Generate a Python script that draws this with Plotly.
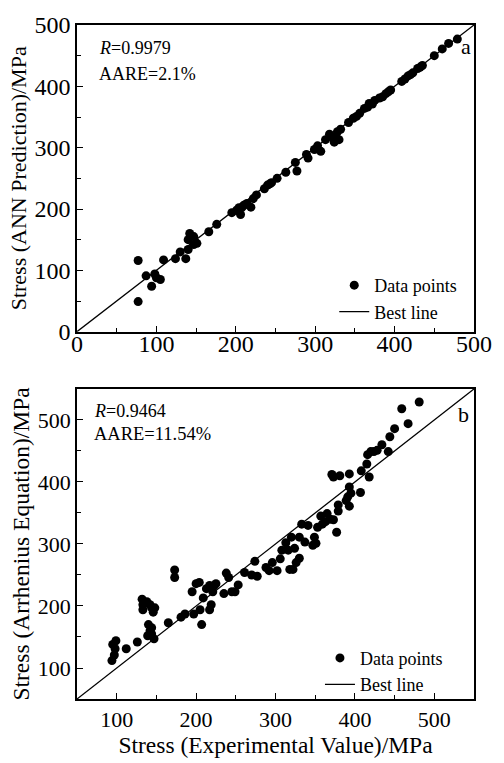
import plotly.graph_objects as go

# ---- Panel a: ANN prediction vs experimental ----
ann_exp = [77, 77, 94, 98, 87, 100, 105, 109, 124, 137, 130, 140, 142, 140, 147, 147, 151,
           166, 176, 195, 201, 206, 208, 214, 219, 222, 226, 236, 240, 245, 252, 263, 275,
           277, 289, 291, 299, 303, 307, 313, 320, 324, 328, 330, 332, 342, 348, 356, 362,
           368, 375, 381, 389, 395, 409, 417, 423, 429, 435, 450, 460, 468, 479,
           204, 210, 243, 318, 326, 352, 366, 372, 385, 392, 413, 420, 432]
ann_pred = [116, 49, 74, 94, 91, 88, 85, 117, 119, 119, 130, 134, 160, 150, 155, 142, 144,
            163, 175, 194, 198, 191, 203, 209, 203, 217, 223, 233, 239, 243, 250, 260, 276,
            262, 289, 283, 297, 303, 294, 313, 318, 309, 326, 313, 330, 341, 348, 356, 364,
            372, 377, 381, 388, 394, 408, 417, 422, 429, 434, 450, 461, 470, 477,
            202, 206, 241, 322, 318, 351, 366, 371, 383, 391, 412, 419, 431]

# ---- Panel b: Arrhenius equation vs experimental ----
arr_exp = [94, 95, 99, 98, 97, 112, 126, 132, 133, 133, 138, 142, 144, 146, 148, 140, 142,
           144, 139, 147, 144, 165, 173, 173, 181, 186, 197, 195, 200, 204, 205, 207, 209,
           213, 217, 217, 219, 223, 225, 221, 235, 238, 241, 245, 249, 253, 261, 270, 274,
           277, 288, 292, 296, 302, 306, 308, 313, 316, 318, 322, 320, 324, 326, 330, 333,
           330, 337, 341, 347, 349, 351, 353, 357, 359, 363, 365, 369, 371, 373, 377, 379,
           381, 379, 373, 389, 391, 393, 393, 393, 395, 407, 408, 415, 418, 416, 420, 424,
           428, 434, 442, 444, 450, 459, 467, 481]
arr_pred = [112, 138, 144, 131, 121, 131, 142, 211, 202, 194, 207, 202, 197, 190, 197, 170, 160,
            165, 152, 147, 155, 173, 258, 246, 182, 187, 187, 223, 236, 238, 194, 170, 213,
            228, 233, 194, 202, 233, 236, 223, 220, 253, 246, 223, 223, 234, 254, 250, 272,
            248, 262, 257, 270, 257, 276, 290, 302, 290, 259, 259, 311, 293, 270, 277, 332,
            311, 303, 330, 298, 311, 301, 327, 345, 332, 336, 349, 340, 412, 408, 319, 363,
            410, 353, 339, 370, 376, 413, 361, 392, 382, 383, 418, 429, 408, 444, 449, 449,
            451, 460, 449, 473, 486, 518, 494, 529]

# best (y = x) lines
best_a = [0, 500]
best_b = [50, 550]

FONT = "Liberation Serif"

fig = go.Figure()
fig.add_trace(go.Scatter(x=ann_exp, y=ann_pred, mode="markers", name="Data points",
                         marker=dict(color="black", size=9), xaxis="x", yaxis="y",
                         legend="legend"))
fig.add_trace(go.Scatter(x=best_a, y=best_a, mode="lines", name="Best line",
                         line=dict(color="black", width=1.3), xaxis="x", yaxis="y",
                         legend="legend"))
fig.add_trace(go.Scatter(x=arr_exp, y=arr_pred, mode="markers", name="Data points",
                         marker=dict(color="black", size=9), xaxis="x2", yaxis="y2",
                         legend="legend2"))
fig.add_trace(go.Scatter(x=best_b, y=best_b, mode="lines", name="Best line",
                         line=dict(color="black", width=1.3), xaxis="x2", yaxis="y2",
                         legend="legend2"))


def axis_common(tsize):
    return dict(showline=True, linecolor="black", linewidth=1.5, mirror=True,
                ticks="inside", ticklen=6, tickwidth=1.3, tickcolor="black",
                showgrid=False, zeroline=False, ticklabeloverflow="allow",
                tickfont=dict(family=FONT, size=tsize, color="black"),
                minor=dict(ticks="inside", ticklen=4, tickwidth=1.3, tickcolor="black",
                           showgrid=False))


fig.update_layout(
    width=504, height=763,
    margin=dict(l=77, r=18, t=20, b=58),
    paper_bgcolor="white", plot_bgcolor="white",
    font=dict(family=FONT, color="black"),
    xaxis=dict(domain=[0, 1], anchor="y", range=[0, 500], dtick=100,
               minor_dtick=50, ticklabelstandoff=-10, **axis_common(24)),
    yaxis=dict(domain=[0.545, 1], anchor="x", range=[0, 500], dtick=100,
               minor_dtick=50, title=dict(text="Stress (ANN Prediction)/MPa",
                                          font=dict(family=FONT, size=22), standoff=2),
               **axis_common(24)),
    xaxis2=dict(domain=[0, 1], anchor="y2", range=[50, 550], tick0=100, dtick=100,
                minor_dtick=50,
                title=dict(text="Stress (Experimental Value)/MPa",
                           font=dict(family=FONT, size=23.5), standoff=2),
                **axis_common(22)),
    yaxis2=dict(domain=[0, 0.46], anchor="x2", range=[50, 550], tick0=100, dtick=100,
                minor_dtick=50,
                title=dict(text="Stress (Arrhenius Equation)/MPa",
                           font=dict(family=FONT, size=23.5), standoff=2),
                **axis_common(22)),
    legend=dict(x=0.648, y=0.641, xanchor="left", yanchor="top",
                font=dict(family=FONT, size=18), bgcolor="rgba(0,0,0,0)",
                tracegroupgap=0, itemwidth=30),
    legend2=dict(x=0.612, y=0.088, xanchor="left", yanchor="top",
                 font=dict(family=FONT, size=18), bgcolor="rgba(0,0,0,0)",
                 tracegroupgap=0, itemwidth=30),
    showlegend=True,
)

ann_font = dict(family=FONT, size=18, color="black")
fig.add_annotation(text="<i>R</i>=0.9979", xref="x domain", yref="y domain", x=0.05, y=0.926,
                   xanchor="left", yanchor="middle", showarrow=False, font=ann_font)
fig.add_annotation(text="AARE=2.1%", xref="x domain", yref="y domain", x=0.05, y=0.839,
                   xanchor="left", yanchor="middle", showarrow=False, font=ann_font)
fig.add_annotation(text="a", xref="x domain", yref="y domain", x=0.981, y=0.93,
                   xanchor="center", yanchor="middle", showarrow=False,
                   font=dict(family=FONT, size=22, color="black"))
fig.add_annotation(text="<i>R</i>=0.9464", xref="x2 domain", yref="y2 domain", x=0.037, y=0.930,
                   xanchor="left", yanchor="middle", showarrow=False, font=ann_font)
fig.add_annotation(text="AARE=11.54%", xref="x2 domain", yref="y2 domain", x=0.037, y=0.854,
                   xanchor="left", yanchor="middle", showarrow=False,
                   font=dict(family=FONT, size=18.5, color="black"))
fig.add_annotation(text="b", xref="x2 domain", yref="y2 domain", x=0.974, y=0.917,
                   xanchor="center", yanchor="middle", showarrow=False,
                   font=dict(family=FONT, size=22, color="black"))

fig.write_html("out.html")
